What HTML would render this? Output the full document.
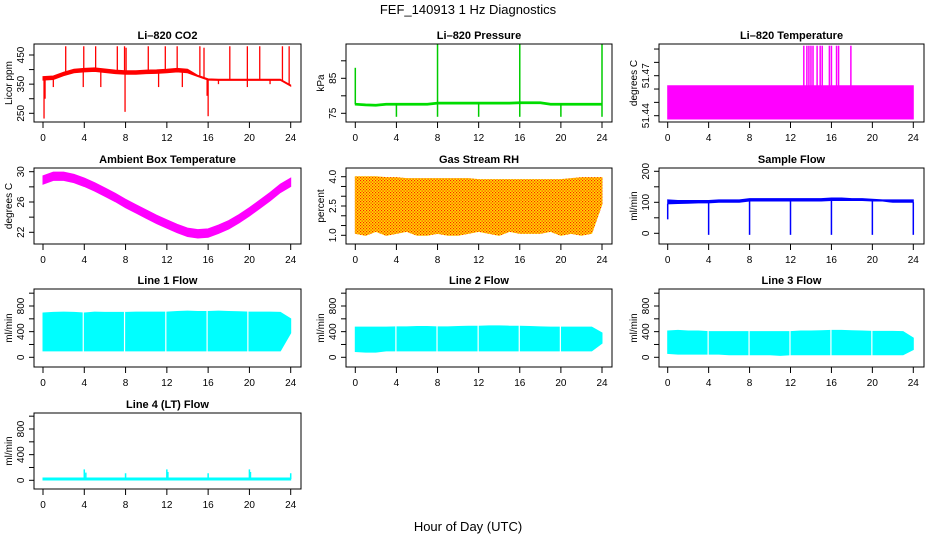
<!DOCTYPE html>
<html><head><meta charset="utf-8"><style>
body{margin:0;background:#fff}
svg{display:block;font-family:"Liberation Sans",Arial,sans-serif}
</style></head><body>
<svg id="c" width="936" height="540" viewBox="0 0 936 540">
<defs>
<pattern id="rhpat" width="3" height="3" patternUnits="userSpaceOnUse">
<rect width="3" height="3" fill="#ffdd00"/><rect x="0" y="0" width="1.2" height="1.2" fill="#ff2000"/><rect x="1.5" y="1.5" width="1.2" height="1.2" fill="#ff2000"/></pattern>
</defs>
<text x="468" y="14" text-anchor="middle" font-size="13">FEF_140913  1 Hz Diagnostics</text>
<text x="468" y="531" text-anchor="middle" font-size="13">Hour of Day (UTC)</text>
</svg>
<script>
const hours=[0,1,2,3,4,5,6,7,8,9,10,11,12,13,14,15,16,17,18,19,20,21,22,23,24];
const xTicks=[0,4,8,12,16,20,24];
// CO2
const co2Base=[370,372,385,395,398,400,396,392,390,390,392,393,395,398,395,378,366,365,365,365,365,365,365,365,345];
const co2SpikeX=[2.2,3.95,5.1,7.2,7.9,8.05,10.2,11.85,13.0,15.2,15.6,18.1,19.8,21.0,23.2,23.85,0.1,0.2,7.95,16.0,15.9,1.0,3.9,5.6,11.2,13.5,17.0,19.8,22.0];
const co2SpikeV=[480,480,480,480,480,475,480,480,480,480,475,480,480,480,480,480,232,300,255,240,310,340,340,340,340,340,350,340,350];
// Pressure
const presBase=[77.6,77.4,77.3,77.6,77.6,77.6,77.6,77.6,77.9,77.9,77.9,77.9,77.9,77.9,77.9,77.9,78.0,78.0,78.0,77.6,77.6,77.6,77.6,77.6,77.6];
const presSpikeX=[0,8,16,24,4,8,12,16,20,24];
const presSpikeV=[88,97,98,97,74,74,74,74,74,74];
// Li-820 temperature
const ltLo=51.4375, ltHi=51.4625;
const ltSpikeX=[13.3,13.6,13.8,14.0,14.2,14.6,14.9,15.1,15.8,16.0,16.5,16.7,17.9];
const ltSpikeV=[51.4925,51.4925,51.4925,51.4925,51.4925,51.4925,51.4925,51.4925,51.4925,51.4925,51.4925,51.4925,51.4925];
// Ambient box temp
const ambCenter=[28.9,29.4,29.4,29.1,28.6,28.0,27.3,26.6,25.8,25.1,24.4,23.7,23.1,22.5,22.0,21.8,21.9,22.4,23.0,23.8,24.7,25.7,26.7,27.8,28.6];
const ambHalf=0.55;
// Gas stream RH
const rhTop=[4.0,4.0,4.0,3.95,3.95,3.9,3.9,3.9,3.9,3.9,3.9,3.9,3.85,3.85,3.85,3.85,3.85,3.85,3.85,3.85,3.85,3.9,3.95,3.95,3.95];
const rhBot=[1.1,1.0,1.2,1.0,1.1,1.2,1.0,1.0,1.1,1.0,1.0,1.1,1.2,1.1,1.0,1.2,1.1,1.1,1.1,1.2,1.0,1.1,1.0,1.1,2.6];
// Sample flow
const sfLo=[95,96,97,98,98,100,100,100,104,104,104,104,104,104,104,104,106,106,106,106,104,104,100,100,100];
const sfHi=[108,106,106,106,106,108,108,108,112,112,112,112,112,112,112,112,114,114,112,112,110,108,108,108,108];
const sfDipX=[4,8,12,16,20,24,0];
const sfDipV=[-5,-5,-5,-5,-5,-5,45];
// Line flows
const l1Lo=[100,100,100,100,100,100,100,100,100,100,100,100,100,100,100,100,100,100,100,100,100,100,100,100,380];
const l1Hi=[690,700,705,700,690,705,700,700,700,705,705,705,705,715,720,715,715,720,715,710,705,705,705,700,600];
const l1Gap=[3.9,7.9,11.9,15.9,19.85];
const l2Lo=[90,80,80,100,100,100,100,100,100,100,100,100,100,100,100,100,100,100,100,100,100,100,100,100,220];
const l2Hi=[470,470,470,470,475,475,480,480,475,475,480,485,485,490,490,485,485,480,475,470,470,470,470,470,380];
const l2Gap=[3.95,7.95,11.95,15.95,19.95];
const l3Lo=[60,50,50,50,50,50,40,40,40,40,40,30,40,40,40,40,40,40,40,40,40,40,40,40,120];
const l3Hi=[410,420,410,410,400,400,400,400,400,400,400,400,400,410,410,415,420,420,415,410,405,405,405,400,300];
const l3Gap=[3.95,7.95,11.95,15.95,19.95];
const l4Base=20;
const l4SpikeX=[4,4.15,8,12,12.1,16,20,20.1,24];
const l4SpikeV=[170,120,110,170,130,110,170,130,110];

const NS='http://www.w3.org/2000/svg';
const svg=document.getElementById('c');
function mk(tag,attrs,parent){const e=document.createElementNS(NS,tag);for(const k in attrs)e.setAttribute(k,attrs[k]);(parent||svg).appendChild(e);return e;}
const cols=[{b0:34,b1:301,x0:43,x24:290.7},{b0:346,b1:612,x0:355.3,x24:602},{b0:659,b1:924,x0:667.7,x24:913.3}];
const rows=[{t:44,b:122},{t:168,b:244},{t:289,b:367},{t:413,b:489}];
function panel(name,title,ci,ri,v1,p1,v2,p2,ticks,labels,ytitle){
  const c=cols[ci],r=rows[ri];
  const g=mk('g',{});
  
  
  const X=h=>c.x0+(h/24)*(c.x24-c.x0);
  const Y=v=>p1+(v-v1)*(p2-p1)/(v2-v1);
  const t=mk('text',{x:(c.b0+c.b1)/2,y:r.t-5,'text-anchor':'middle','font-size':11,'font-weight':'bold'},g);
  t.textContent=title;
  
  
  const plot=mk('g',{'clip-path':'url(#cp'+ci+ri+')'},g);
  const cp=mk('clipPath',{id:'cp'+ci+ri},g);mk('rect',{x:c.b0,y:r.t,width:c.b1-c.b0,height:r.b-r.t},cp);
  const box=mk('rect',{x:c.b0,y:r.t,width:c.b1-c.b0,height:r.b-r.t,fill:'none',stroke:'#000','stroke-width':1},g);
  
  
  const ax=mk('g',{},g);
  
  
  const ay=r.b;
  xTicks.forEach(h=>{mk('line',{x1:X(h),x2:X(h),y1:ay,y2:ay+6,stroke:'#000'},ax);
    const l=mk('text',{x:X(h),y:ay+19,'text-anchor':'middle','font-size':10},ax);l.textContent=h;});
  const yx=mk('g',{},g);
  
  
  ticks.forEach(v=>{const py=Y(v);mk('line',{x1:c.b0-5,x2:c.b0,y1:py,y2:py,stroke:'#000'},yx);});
  labels.forEach(v=>{const py=Y(v);const l=mk('text',{x:0,y:0,'text-anchor':'middle','font-size':10,transform:`translate(${c.b0-10},${py}) rotate(-90)`},yx);l.textContent=v;});
  const yt=mk('text',{x:0,y:0,'text-anchor':'middle','font-size':10,transform:`translate(${c.b0-22},${(r.t+r.b)/2}) rotate(-90)`},g);
  yt.textContent=ytitle;
  
  
  return {X,Y,plot};
}
function band(p,lo,hi,fill,name){
  let pts=hours.map((h,i)=>p.X(h)+','+p.Y(hi[i]));
  pts=pts.concat(hours.slice().reverse().map((h,j)=>{const i=hours.length-1-j;return p.X(h)+','+p.Y(lo[i]);}));
  const e=mk('polygon',{points:pts.join(' '),fill:fill,stroke:fill,'stroke-width':1},p.plot);
  
  
}
function interp(arr,h){const i=Math.min(23,Math.floor(h));const f=h-i;return arr[i]*(1-f)+arr[i+1]*f;}
function spikes(p,xs,vs,base,color,name,w){
  xs.forEach((h,i)=>{const b=typeof base==='number'?base:interp(base,h);
    const e=mk('line',{x1:p.X(h),x2:p.X(h),y1:p.Y(b),y2:p.Y(vs[i]),stroke:color,'stroke-width':w||1.3},p.plot);
    
    });
}
function gaps(p,xs,lo,hi,name){
  xs.forEach(h=>{const e=mk('line',{x1:p.X(h),x2:p.X(h),y1:p.Y(interp(hi,h))-3,y2:p.Y(interp(lo,h))+1,stroke:'#fff','stroke-width':1.2},p.plot);
    
    });
}
// CO2
let p=panel('co2-panel','Li\u2013820 CO2',0,0,250,113.3,450,55,[250,300,350,400,450],[250,350,450],'Licor ppm');
band(p,co2Base.map((v,i)=>v-(i<15?6:2)),co2Base.map((v,i)=>v+(i<15?6:2)),'#ff0000','co2-series');
spikes(p,co2SpikeX,co2SpikeV,co2Base,'#ff0000','co2-spike');
// Pressure
p=panel('pressure-panel','Li\u2013820 Pressure',1,0,75,113.3,85,78.3,[75,80,85,90],[75,85],'kPa');
band(p,presBase.map(v=>v-0.25),presBase.map(v=>v+0.25),'#00dd00','pressure-series');
spikes(p,presSpikeX,presSpikeV,presBase,'#00cc00','pressure-spike',1.5);
// Li-820 temperature
p=panel('li820-temp-panel','Li\u2013820 Temperature',2,0,51.44,115.7,51.47,75.7,[51.44,51.45,51.46,51.47,51.48,51.49],[51.44,51.47],'degrees C');
band(p,hours.map(()=>ltLo),hours.map(()=>ltHi),'#ff00ff','li820-temp-series');
spikes(p,ltSpikeX,ltSpikeV,ltHi,'#ff00ff','li820-temp-spike',1.5);
// Ambient
p=panel('ambient-temp-panel','Ambient Box Temperature',0,1,30,171.7,22,232.3,[22,24,26,28,30],[22,26,30],'degrees C');
band(p,ambCenter.map(v=>v-ambHalf),ambCenter.map(v=>v+ambHalf),'#ff00ff','ambient-temp-series');
// RH
p=panel('rh-panel','Gas Stream RH',1,1,4.0,176.7,1.0,235.3,[1,1.5,2,2.5,3,3.5,4],['1.0','2.5','4.0'],'percent');
band(p,rhBot,rhTop,'url(#rhpat)','rh-series');
// Sample flow
p=panel('sample-flow-panel','Sample Flow',2,1,0,233.3,100,202.3,[0,50,100,150,200],[0,100,200],'ml/min');
band(p,sfLo,sfHi,'#0000ff','sample-flow-series');
spikes(p,sfDipX,sfDipV,sfLo,'#0000ff','sample-flow-dip',1.5);
// Line flows
const ft=[0,200,400,600,800,1000],fl=[0,400,800];
p=panel('line1-flow-panel','Line 1 Flow',0,2,0,357.3,800,306,ft,fl,'ml/min');
band(p,l1Lo,l1Hi,'#00ffff','line1-flow-series');gaps(p,l1Gap,l1Lo,l1Hi,'line1-gap');
p=panel('line2-flow-panel','Line 2 Flow',1,2,0,357.3,800,306,ft,fl,'ml/min');
band(p,l2Lo,l2Hi,'#00ffff','line2-flow-series');gaps(p,l2Gap,l2Lo,l2Hi,'line2-gap');
p=panel('line3-flow-panel','Line 3 Flow',2,2,0,357.3,800,306,ft,fl,'ml/min');
band(p,l3Lo,l3Hi,'#00ffff','line3-flow-series');gaps(p,l3Gap,l3Lo,l3Hi,'line3-gap');
p=panel('line4-flow-panel','Line 4 (LT) Flow',0,3,0,480.3,800,429,ft,fl,'ml/min');
band(p,hours.map(()=>l4Base-15),hours.map(()=>l4Base+15),'#00ffff','line4-flow-series');
spikes(p,l4SpikeX,l4SpikeV,l4Base,'#00ffff','line4-spike',1.5);
</script>
</body></html>
